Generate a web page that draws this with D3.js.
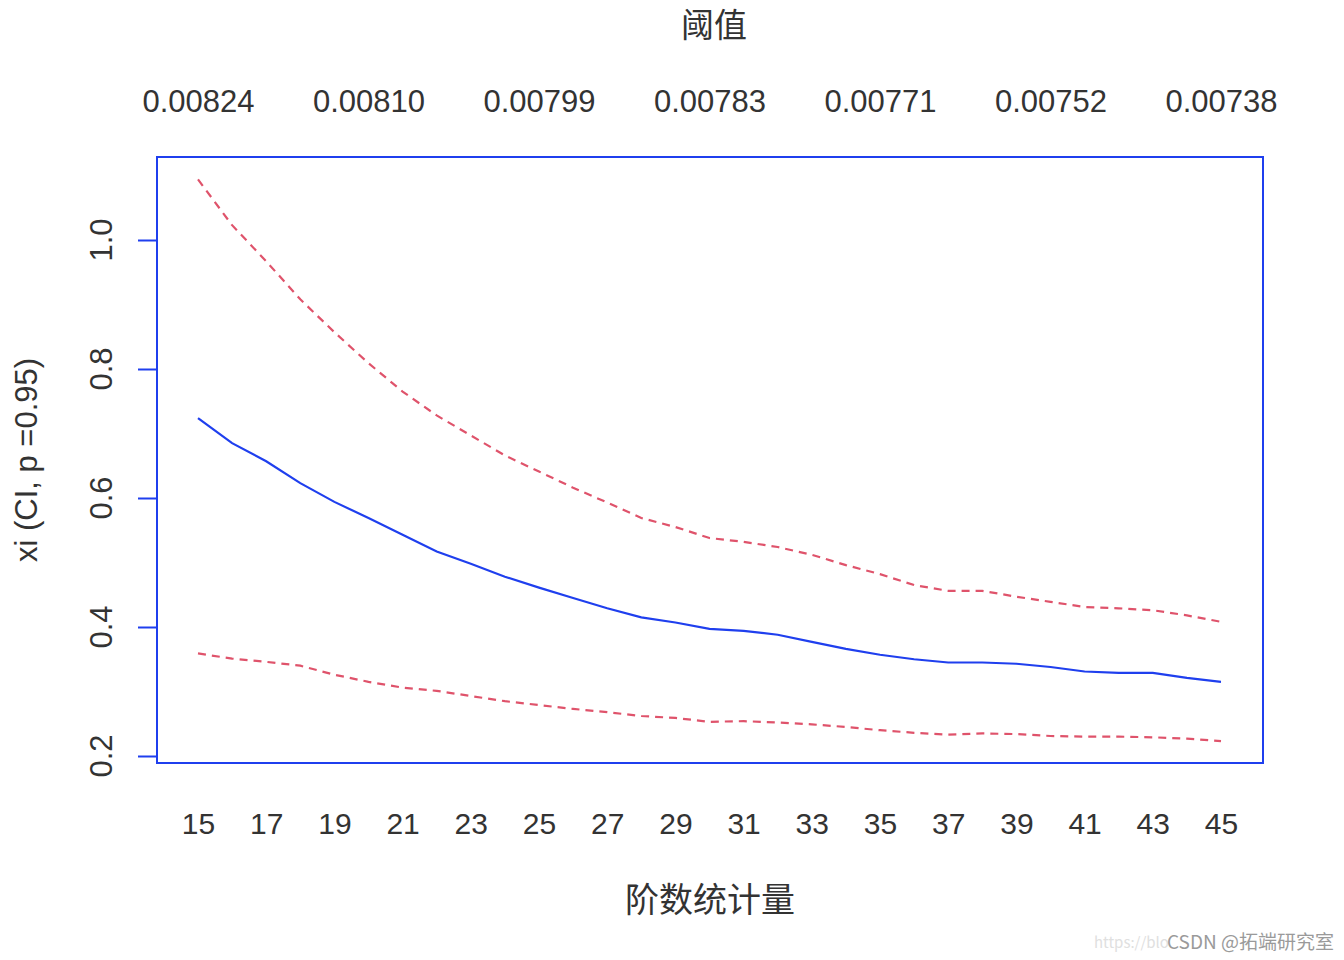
<!DOCTYPE html>
<html>
<head>
<meta charset="utf-8">
<script src="https://cdn.jsdelivr.net/npm/d3@7"></script>
<style>
  body { margin: 0; background: #fff; }
  text { font-family: "Liberation Sans", Arial, sans-serif; fill: #333; }
  .cjk { font-family: "Noto Sans CJK SC", sans-serif; }
</style>
</head>
<body>
<svg id="chart" width="1344" height="960"></svg>
<script>
// order statistics (k) and the xi estimate with its 95% CI
var orders = d3.range(15, 46);
var xiEst = [0.724, 0.685, 0.657, 0.623, 0.594, 0.569, 0.543, 0.517, 0.498, 0.478,
             0.461, 0.445, 0.429, 0.415, 0.407, 0.397, 0.394, 0.388, 0.377, 0.366,
             0.357, 0.350, 0.345, 0.345, 0.343, 0.338, 0.331, 0.329, 0.329, 0.321, 0.315];
var xiUpper = [1.094, 1.023, 0.967, 0.908, 0.857, 0.809, 0.765, 0.728, 0.697, 0.666,
               0.641, 0.616, 0.593, 0.569, 0.555, 0.538, 0.532, 0.524, 0.512, 0.496,
               0.482, 0.465, 0.456, 0.456, 0.447, 0.439, 0.431, 0.429, 0.426, 0.418, 0.408];
var xiLower = [0.359, 0.351, 0.346, 0.340, 0.326, 0.315, 0.306, 0.301, 0.293, 0.285,
               0.279, 0.273, 0.268, 0.262, 0.259, 0.253, 0.254, 0.252, 0.249, 0.245,
               0.240, 0.236, 0.233, 0.235, 0.234, 0.231, 0.230, 0.230, 0.229, 0.227, 0.223];

var bottomTicks = d3.range(15, 46, 2);
var topTicks = [15, 20, 25, 30, 35, 40, 45];
var topLabels = ["0.00824", "0.00810", "0.00799", "0.00783", "0.00771", "0.00752", "0.00738"];
var yTicks = [0.2, 0.4, 0.6, 0.8, 1.0];

var svg = d3.select("#chart");
var box = {left: 157, right: 1263, top: 157, bottom: 763};
var blue = "#1f3fee", red = "#df536b";

var x = d3.scaleLinear().domain([15, 45]).range([198, 1221]);
var y = d3.scaleLinear().domain([0.2, 1.0]).range([756, 240]);

// plot frame
svg.append("rect")
    .attr("x", box.left).attr("y", box.top)
    .attr("width", box.right - box.left).attr("height", box.bottom - box.top)
    .attr("fill", "none").attr("stroke", blue).attr("stroke-width", 2);

// left axis (ticks only, labels drawn rotated like R)
var yAxis = svg.append("g")
    .attr("transform", "translate(" + box.left + ",0)")
    .call(d3.axisLeft(y).tickValues(yTicks).tickSize(19).tickFormat(""));
yAxis.select(".domain").remove();
yAxis.selectAll("line").attr("stroke", blue).attr("stroke-width", 2);

svg.append("g").selectAll("text")
    .data(yTicks).enter().append("text")
    .attr("transform", function(d) { return "translate(112," + y(d) + ") rotate(-90)"; })
    .attr("text-anchor", "middle")
    .style("font-size", "31px")
    .text(function(d) { return d3.format(".1f")(d); });

// bottom labels, no tick marks
var xAxis = svg.append("g")
    .attr("transform", "translate(0," + box.bottom + ")")
    .call(d3.axisBottom(x).tickValues(bottomTicks).tickSize(0).tickPadding(0));
xAxis.select(".domain").remove();
xAxis.selectAll("text")
    .attr("y", 71).attr("dy", null)
    .attr("fill", "#333")
    .style("font-size", "30px")
    .style("font-family", "Liberation Sans, Arial, sans-serif");

// top labels (threshold)
var topAxis = svg.append("g")
    .attr("transform", "translate(0," + box.top + ")")
    .call(d3.axisTop(x).tickValues(topTicks).tickSize(0).tickPadding(0)
      .tickFormat(function(d, i) { return topLabels[i]; }));
topAxis.select(".domain").remove();
topAxis.selectAll("text")
    .attr("y", -45).attr("dy", null)
    .attr("fill", "#333")
    .style("font-size", "31px")
    .style("font-family", "Liberation Sans, Arial, sans-serif");

// lines
var line = function(vals) {
  return d3.line()
    .x(function(d, i) { return x(orders[i]); })
    .y(function(d) { return y(d); })(vals);
};
svg.append("path").attr("d", line(xiUpper))
    .attr("fill", "none").attr("stroke", red).attr("stroke-width", 2.2)
    .attr("stroke-dasharray", "8,6");
svg.append("path").attr("d", line(xiLower))
    .attr("fill", "none").attr("stroke", red).attr("stroke-width", 2.2)
    .attr("stroke-dasharray", "8,6");
svg.append("path").attr("d", line(xiEst))
    .attr("fill", "none").attr("stroke", blue).attr("stroke-width", 2.2);

// titles
svg.append("text").attr("class", "cjk")
    .attr("x", 714).attr("y", 37).attr("text-anchor", "middle")
    .style("font-size", "33px").text("阈值");
svg.append("text").attr("class", "cjk")
    .attr("x", 710).attr("y", 912).attr("text-anchor", "middle")
    .style("font-size", "34px").text("阶数统计量");
svg.append("text")
    .attr("transform", "translate(37,460) rotate(-90)")
    .attr("text-anchor", "middle")
    .style("font-size", "31px").text("xi (CI, p =0.95)");

// watermark
svg.append("text").attr("class", "cjk")
    .attr("x", 1094).attr("y", 948)
    .style("font-size", "15px").style("fill", "#e0e0e0")
    .text("https://blo");
svg.append("text").attr("class", "cjk")
    .attr("x", 1334).attr("y", 949).attr("text-anchor", "end")
    .style("font-size", "19px").style("fill", "#9a9a9a")
    .text("CSDN @拓端研究室");
</script>
</body>
</html>
